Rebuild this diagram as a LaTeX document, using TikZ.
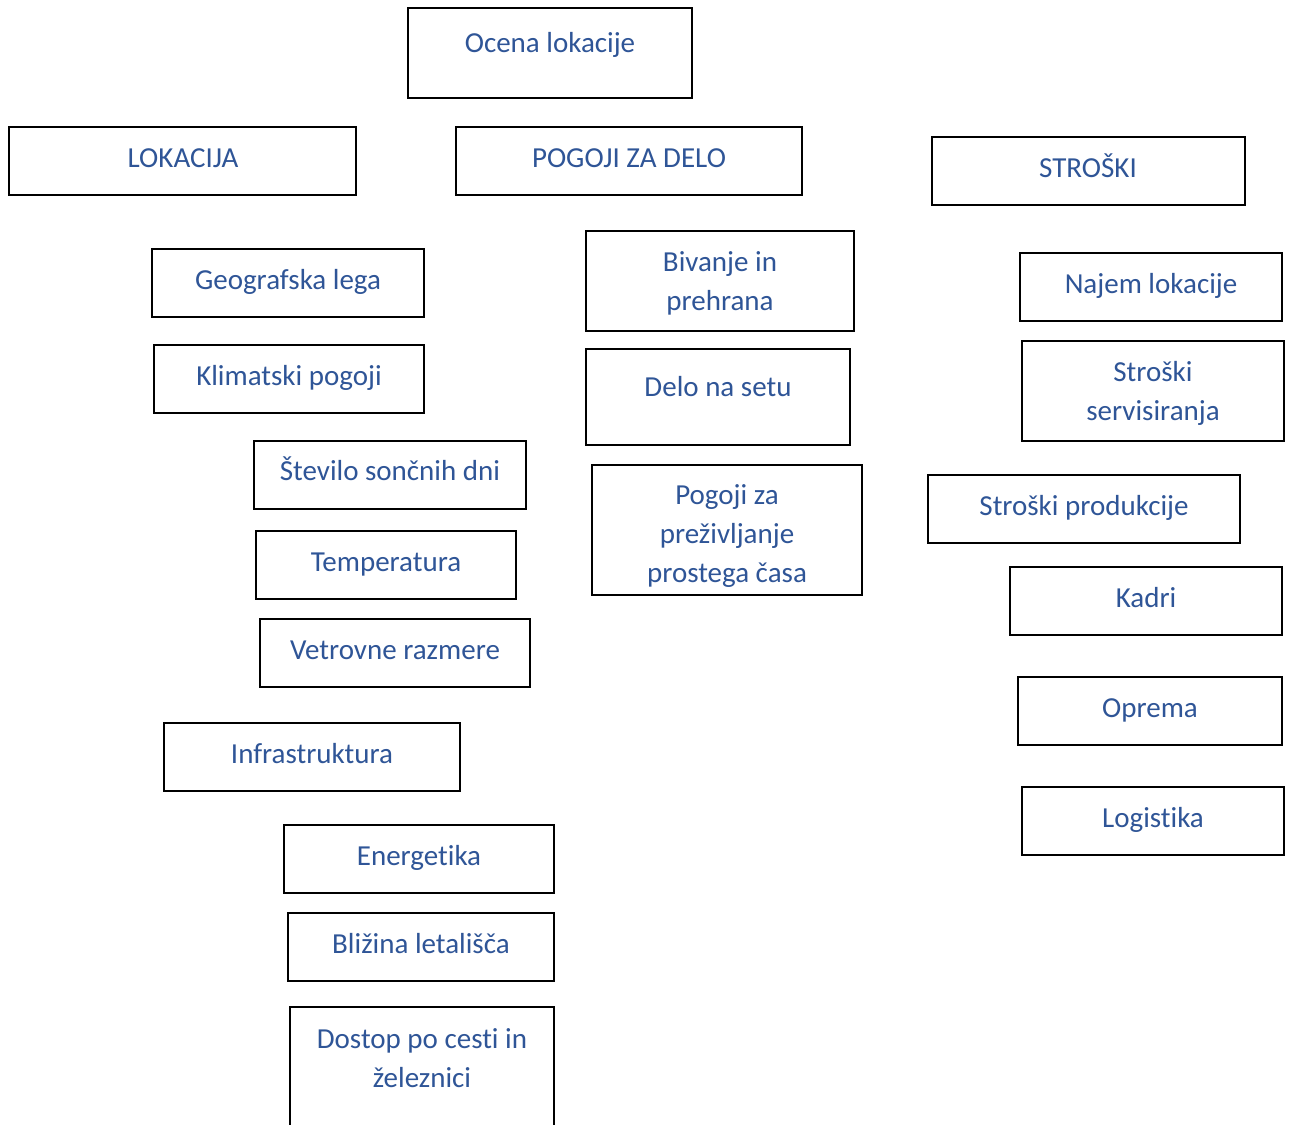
\documentclass[tikz,border=0pt]{standalone}
\usepackage{fontspec}
\setmainfont[RawFeature={-liga;-clig;-dlig;-calt}]{Carlito}
\definecolor{txtblue}{RGB}{47,85,151}
\newcommand\mlines[1]{\begin{tabular}[t]{@{}c@{}}#1\end{tabular}}
\tikzset{
  box/.style={draw=black, line width=2.8pt, rectangle, inner sep=0pt},
  lbl/.style={text=txtblue, anchor=base, inner sep=0pt, font=\fontsize{29}{39}\selectfont}
}
\newcommand\bx[5]{% name, x1, y1, x2, y2
  \node[box, minimum width={(#4-#2)*1pt}, minimum height={(#5-#3)*1pt}] (#1) at ({(#2+#4)/2},{(#3+#5)/2}) {};}
\begin{document}
\begin{tikzpicture}[x=1pt,y=-1pt]
\useasboundingbox (0,0) rectangle (1292,1124);
\clip (0,0) rectangle (1292,1124);
\fill[white] (0,0) rectangle (1292,1124);
% boxes
\bx{ocena}{408}{8}{692}{98}
\bx{lok}{9}{127}{356}{195}
\bx{pog}{456}{127}{802}{195}
\bx{str}{932}{137}{1245}{205}
\bx{geo}{152}{249}{424}{317}
\bx{klim}{154}{345}{424}{413}
\bx{stev}{254}{441}{526}{509}
\bx{temp}{256}{531}{516}{599}
\bx{vet}{260}{619}{530}{687}
\bx{inf}{164}{723}{460}{791}
\bx{ene}{284}{825}{554}{893}
\bx{bliz}{288}{913}{554}{981}
\bx{dost}{290}{1007}{554}{1150}
\bx{biv}{586}{231}{854}{331}
\bx{delo}{586}{349}{850}{445}
\bx{prost}{592}{465}{862}{595}
\bx{najem}{1020}{253}{1282}{321}
\bx{serv}{1022}{341}{1284}{441}
\bx{prod}{928}{475}{1240}{543}
\bx{kadri}{1010}{567}{1282}{635}
\bx{oprema}{1018}{677}{1282}{745}
\bx{logi}{1022}{787}{1284}{855}
% labels
\node[lbl] (t-ocena) at (550,52.5) {Ocena lokacije};
\node[lbl] (t-lok) at (183,167.5) {LOKACIJA};
\node[lbl] (t-pog) at (629,167.5) {POGOJI ZA DELO};
\node[lbl] (t-str) at (1088,177.5) {STROŠKI};
\node[lbl] (t-geo) at (288,289.5) {Geografska lega};
\node[lbl] (t-klim) at (289,385.5) {Klimatski pogoji};
\node[lbl] (t-stev) at (390,480.5) {Število sončnih dni};
\node[lbl] (t-temp) at (386,571.5) {Temperatura};
\node[lbl] (t-vet) at (395,659.5) {Vetrovne razmere};
\node[lbl] (t-inf) at (312,763.5) {Infrastruktura};
\node[lbl] (t-ene) at (419,865.5) {Energet\kern0pt ika};
\node[lbl] (t-bliz) at (421,953.5) {Bližina letališča};
\node[lbl] (t-dost) at (422,1048.5) {\mlines{Dostop po cest\kern0pt i in\\železnici}};
\node[lbl] (t-biv) at (720,271.5) {\mlines{Bivanje in\\prehrana}};
\node[lbl] (t-delo) at (718,396.5) {Delo na setu};
\node[lbl] (t-prost) at (727,504.5) {\mlines{Pogoji za\\preživljanje\\prostega časa}};
\node[lbl] (t-najem) at (1151,293.5) {Najem lokacije};
\node[lbl] (t-serv) at (1153,381.5) {\mlines{Stroški\\servisiranja}};
\node[lbl] (t-prod) at (1084,515.5) {Stroški produkcije};
\node[lbl] (t-kadri) at (1146,607.5) {Kadri};
\node[lbl] (t-oprema) at (1150,717.5) {Oprema};
\node[lbl] (t-logi) at (1153,827.5) {Logistika};
\end{tikzpicture}
\end{document}
